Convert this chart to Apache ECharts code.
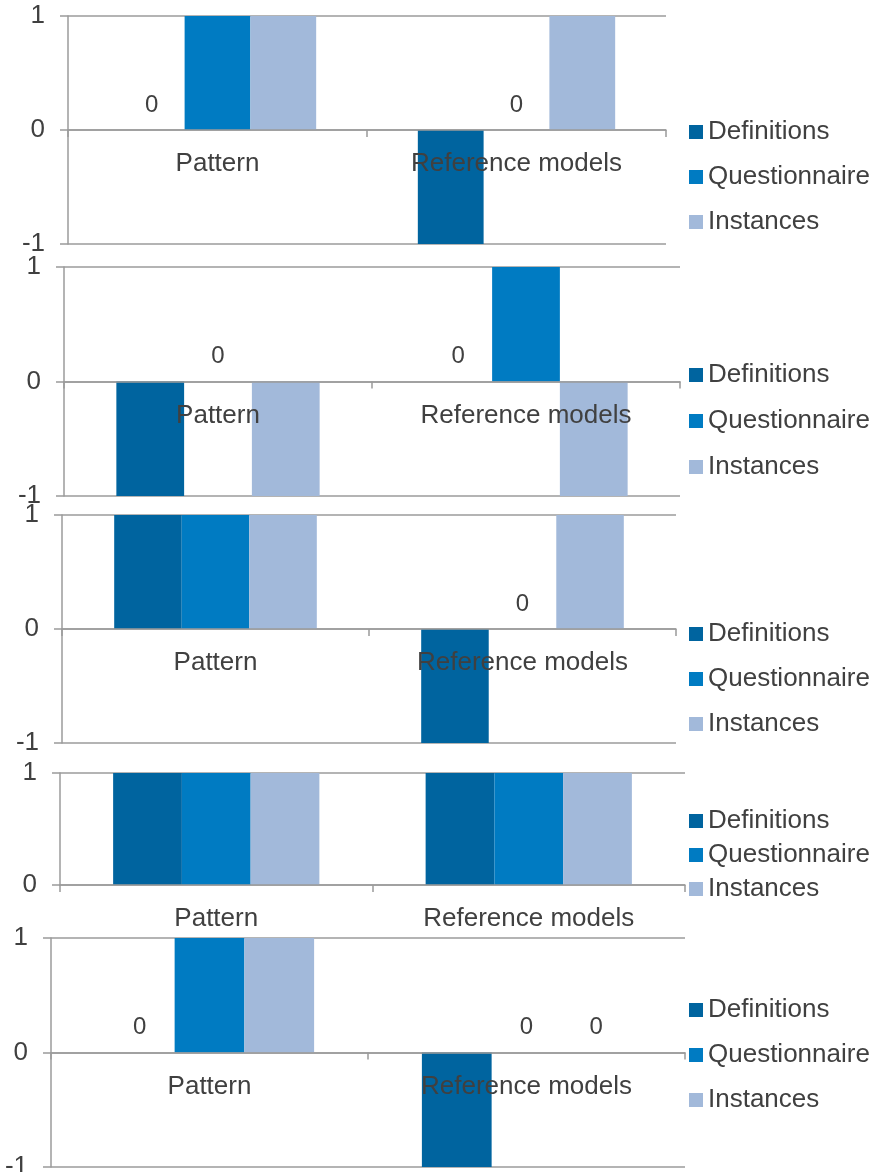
<!DOCTYPE html>
<html>
<head>
<meta charset="utf-8">
<script src="https://cdn.jsdelivr.net/npm/echarts@6/dist/echarts.min.js"></script>
<style>
  html, body { margin: 0; padding: 0; background: #fff; }
  #chart { width: 889px; height: 1172px; }
</style>
</head>
<body>
<div id="chart"></div>
<script>
// data, one row per panel: [Pattern, Reference models]
const categories = ['Pattern', 'Reference models'];
const seriesNames = ['Definitions', 'Questionnaire', 'Instances'];
const definitions = [[0, -1], [-1, 0], [1, -1], [1, 1], [0, -1]];
const questionnaire = [[1, 0], [0, 1], [1, 0], [1, 1], [1, 0]];
const instances = [[1, 1], [-1, -1], [1, 1], [1, 1], [1, 0]];
const yMin = [-1, -1, -1, 0, -1];
const yMax = [1, 1, 1, 1, 1];

const colors = ['#00649f', '#007bc2', '#a2b9da'];
const grey = '#9b9b9b';
const textColor = '#404040';
const font = 'Liberation Sans, Arial, sans-serif';

// panel boxes
const grids = [
  { left: 68, top: 16, width: 598, height: 228 },
  { left: 64, top: 267, width: 616, height: 229 },
  { left: 62, top: 515, width: 614, height: 228 },
  { left: 60, top: 773, width: 625, height: 112 },
  { left: 51, top: 938, width: 634, height: 229 }
];
const legendTops = [118, 361, 620, 807, 996];
const legendGaps = [17, 18, 17, 6, 17];

const chart = echarts.init(document.getElementById('chart'));
const values = [definitions, questionnaire, instances];

const series = [];
grids.forEach((g, i) => {
  seriesNames.forEach((name, s) => {
    series.push({
      name,
      type: 'bar',
      xAxisIndex: i,
      yAxisIndex: i,
      barGap: '0%',
      barCategoryGap: '34%',
      itemStyle: { color: colors[s] },
      label: {
        show: true,
        position: 'top',
        distance: 13,
        color: textColor,
        fontFamily: font,
        fontSize: 24,
        formatter: (p) => (p.value === 0 ? '0' : '')
      },
      emphasis: { disabled: true },
      data: values[s][i]
    });
  });
});

// category labels sit under the zero line, not under the plot
const zeroOffset = (i, g) => g.height * (0 - yMin[i]) / (yMax[i] - yMin[i]);

chart.setOption({
  animation: false,
  backgroundColor: '#fff',
  textStyle: { fontFamily: font },
  grid: grids.map((g) => ({ ...g, outerBoundsMode: 'none' })),
  legend: grids.map((g, i) => ({
    data: seriesNames,
    orient: 'vertical',
    left: 689,
    top: legendTops[i],
    padding: 0,
    itemGap: legendGaps[i],
    itemWidth: 14,
    itemHeight: 14,
    icon: 'rect',
    selectedMode: false,
    textStyle: { color: textColor, fontSize: 26, lineHeight: 28, fontFamily: font }
  })),
  xAxis: grids.map((g, i) => ({
    type: 'category',
    gridIndex: i,
    data: categories,
    z: 5,
    axisLine: { onZero: true, lineStyle: { color: grey, width: 1.5 } },
    axisTick: { show: true, length: 7, lineStyle: { color: grey, width: 1.5 } },
    axisLabel: {
      color: textColor,
      fontSize: 26,
      margin: 21 - zeroOffset(i, g),
      fontFamily: font
    }
  })),
  yAxis: grids.map((g, i) => ({
    type: 'value',
    gridIndex: i,
    min: yMin[i],
    max: yMax[i],
    interval: 1,
    axisLine: { show: true, lineStyle: { color: grey, width: 1.5 } },
    axisTick: { show: true, length: 8, lineStyle: { color: grey, width: 1.5 } },
    axisLabel: { color: textColor, fontSize: 26, margin: 23, fontFamily: font },
    splitLine: { show: true, lineStyle: { color: grey, width: 1.5 } }
  })),
  series
});
</script>
</body>
</html>
